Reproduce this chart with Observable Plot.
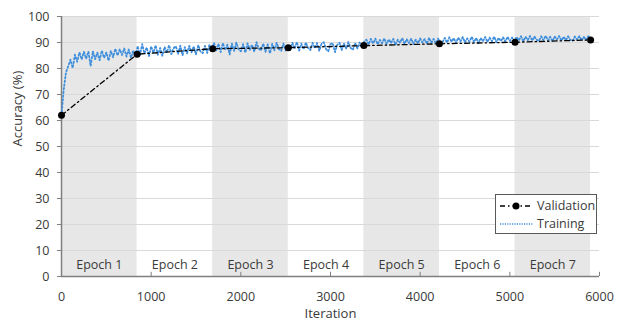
<!DOCTYPE html>
<html><head><meta charset="utf-8">
<script src="https://cdn.jsdelivr.net/npm/d3@7"></script>
<script src="https://cdn.jsdelivr.net/npm/@observablehq/plot@0.6"></script>
<style>
body{margin:0;background:#fff;}
#chart{width:617px;height:322px;}
</style></head><body><div id="chart"></div>
<script>
const epochLabels = ["Epoch 1","Epoch 2","Epoch 3","Epoch 4","Epoch 5","Epoch 6","Epoch 7"];
const epochEdges = [0, 843, 1686, 2529, 3372, 4215, 5058, 5901];
const valIter = [0, 843, 1686, 2529, 3372, 4215, 5058, 5901];
const valAcc = [62.0, 85.5, 87.6, 88.0, 88.8, 89.5, 90.1, 91.0];
const trainStep = 25;
const trainEpoch1 = [62.0,72.0,78.5,80.9,83.4,80.2,85.3,82.6,86.2,83.5,86.4,83.8,86.5,80.9,86.6,83.6,86.1,83.2,86.9,84.1,86.2,83.0,86.8,84.3,87.6,85.0,87.4,85.2,87.7,84.6,87.3,84.1,86.9,85.0];
const trainEpoch2 = [88.6,85.2,89.4,85.7,88.1,84.8,88.5,86.0,88.9,85.3,87.9,84.9,88.3,86.1,89.0,85.5,87.8,88.6,85.6,88.8,85.1,88.2,85.8,88.7,86.2,88.5,85.4,89.0,86.5,85.9,88.7,86.0,89.2,86.6];
const trainEpoch3 = [89.9,87.0,89.5,86.3,89.8,87.1,89.2,85.4,89.6,86.8,90.0,87.3,86.6,89.4,86.1,89.7,87.2,89.1,86.5,90.1,87.6,86.9,89.6,86.4,89.3,85.8,89.5,87.0,89.9,87.4,86.8,89.6,86.9,89.0];
const trainEpoch4 = [87.2,89.9,87.6,90.2,86.9,89.6,87.4,90.0,87.9,87.1,89.9,87.8,89.8,86.8,89.5,90.1,87.5,86.6,89.4,89.7,86.3,89.1,89.9,87.1,89.6,87.6,90.2,87.9,87.2,89.8,87.7,90.0,88.1,90.3];
const trainEpoch5 = [91.1,89.2,91.4,89.6,91.5,89.3,91.0,89.7,91.6,89.4,91.2,89.8,91.4,89.1,91.1,89.9,91.7,89.5,91.3,89.8,91.5,89.4,91.1,89.7,91.6,90.0,91.3,89.5,91.8,89.9,91.4,89.6,91.5,90.0];
const trainEpoch6 = [90.2,91.8,89.9,92.0,90.3,91.7,89.8,91.9,90.4,92.1,90.0,91.6,90.3,92.2,90.1,91.8,89.7,91.7,90.5,92.1,90.2,91.9,90.4,92.3,90.1,91.8,90.5,92.0,90.3,92.2,90.6,91.9,90.4,92.1];
const trainEpoch7 = [90.8,92.4,90.5,92.2,90.9,92.5,90.7,92.3,91.0,90.6,92.4,90.9,92.6,90.8,92.2,90.5,92.3,91.1,92.5,90.7,92.2,90.9,92.4,91.0,90.6,92.3,91.1,92.5,90.8,92.2,91.0,92.4,90.9];
const xTicks = [0,1000,2000,3000,4000,5000,6000];
const yTicks = [0,10,20,30,40,50,60,70,80,90,100];

const trainAcc = [].concat(trainEpoch1,trainEpoch2,trainEpoch3,trainEpoch4,trainEpoch5,trainEpoch6,trainEpoch7);
const train = trainAcc.map((a,i)=>({iter:i*trainStep, acc:a}));
const val = valIter.map((it,i)=>({iter:it, acc:valAcc[i]}));
const bands = epochLabels.map((label,i)=>({label, x1:epochEdges[i], x2:epochEdges[i+1], mid:(epochEdges[i]+epochEdges[i+1])/2, shaded:i%2===0}));

const font = "'Open Sans', sans-serif";
const axisColor = "#7f7f7f";
const textColor = "#3a3a3a";
const trainColor = "#3f8fdc";

const plot = Plot.plot({
  width:617, height:322, marginLeft:61, marginRight:18, marginTop:16, marginBottom:46,
  style:{fontFamily:font, fontSize:"12px", color:textColor, background:"#fff"},
  x:{domain:[0,6000]}, y:{domain:[0,100]},
  marks:[
    Plot.rect(bands.filter(d=>d.shaded), {x1:"x1", x2:"x2", y1:0, y2:100, fill:"#e7e7e7"}),
    Plot.ruleY(yTicks.filter(t=>t>0), {stroke:"#d9d9d9", strokeWidth:1}),
    Plot.text(bands, {x:"mid", y:4.6, text:"label", fontSize:12.5, fill:textColor}),
    Plot.axisY({ticks:yTicks, tickSize:4, tickPadding:8, label:null, stroke:axisColor, fontSize:12.5, fill:textColor}),
    Plot.axisX({ticks:xTicks, tickSize:0, tickPadding:16, tickFormat:d=>String(d), label:null, fontSize:12.5, fill:textColor}),
    Plot.ruleX(xTicks, {y1:0, y2:1.6, stroke:axisColor, strokeWidth:1}),
    Plot.ruleX([0], {y1:0, y2:100, stroke:axisColor, strokeWidth:1.5}),
    Plot.ruleY([0], {x1:0, x2:6000, stroke:axisColor, strokeWidth:1.5}),
    Plot.text(["Accuracy (%)"], {frameAnchor:"left", dx:-44, rotate:-90, fontSize:13, fill:textColor}),
    Plot.text(["Iteration"], {frameAnchor:"bottom", lineAnchor:"middle", dy:37, fontSize:13, fill:textColor}),
    Plot.line(train, {x:"iter", y:"acc", stroke:trainColor, strokeWidth:1.8, strokeDasharray:"1.5,2.2"}),
    Plot.line(val, {x:"iter", y:"acc", stroke:"#000", strokeWidth:1.3, strokeDasharray:"5,3,1.5,3"}),
    Plot.dot(val, {x:"iter", y:"acc", r:3.5, fill:"#000"})
  ]
});
document.getElementById("chart").appendChild(plot);

// legend
const svg = d3.select(plot);
const lg = svg.append("g").attr("font-family", font).attr("font-size", 12.5).attr("fill", textColor).attr("text-anchor","start");
lg.append("rect").attr("x",495.5).attr("y",194.5).attr("width",101).attr("height",39).attr("fill","#fff").attr("stroke","#595959").attr("stroke-width",1);
lg.append("line").attr("x1",500).attr("x2",533).attr("y1",206).attr("y2",206).attr("stroke","#000").attr("stroke-width",1.3).attr("stroke-dasharray","5,3,1.5,3");
lg.append("circle").attr("cx",516).attr("cy",206).attr("r",3.5).attr("fill","#000");
lg.append("text").attr("x",537).attr("y",206).attr("dy","0.35em").text("Validation");
lg.append("line").attr("x1",500).attr("x2",533).attr("y1",224).attr("y2",224).attr("stroke",trainColor).attr("stroke-width",1.4).attr("stroke-dasharray","1.2,1.2");
lg.append("text").attr("x",537).attr("y",224).attr("dy","0.35em").text("Training");
</script></body></html>
